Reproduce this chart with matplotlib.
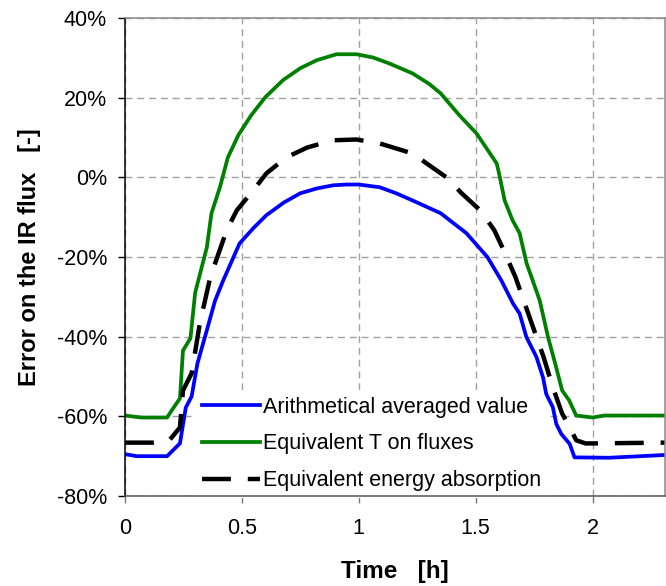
import matplotlib
matplotlib.use('Agg')
import matplotlib.pyplot as plt
from matplotlib.ticker import FuncFormatter

plt.rcParams['font.family'] = ['Liberation Sans', 'DejaVu Sans']

# Arithmetical averaged value
t_arith = [0, 0.05, 0.18, 0.235, 0.26, 0.285, 0.31, 0.35, 0.385, 0.42, 0.49, 0.55,
           0.605, 0.68, 0.75, 0.82, 0.89, 0.95, 1.0, 1.09, 1.16, 1.23, 1.35, 1.46,
           1.55, 1.61, 1.66, 1.688, 1.717, 1.76, 1.788, 1.802, 1.83, 1.845, 1.866,
           1.902, 1.923, 2.07, 2.31]
err_arith = [-69.5, -70, -70, -66.8, -57.8, -55, -46.7, -38.4, -31, -25.9, -16.6, -12.7,
             -9.5, -6.3, -4, -2.8, -2, -1.8, -1.8, -2.5, -4, -5.8, -9, -14,
             -20, -25.9, -31.7, -34.2, -40.1, -45.1, -50.2, -54.4, -57.7, -61.9, -64.4,
             -66.9, -70.3, -70.4, -69.7]

# Equivalent T on fluxes
t_eqT = [0, 0.07, 0.18, 0.2, 0.235, 0.248, 0.28, 0.30, 0.35, 0.37, 0.406, 0.44, 0.485,
         0.54, 0.60, 0.676, 0.75, 0.82, 0.905, 0.99, 1.06, 1.13, 1.23, 1.30, 1.35, 1.43, 1.504,
         1.59, 1.60, 1.624, 1.658, 1.688, 1.718, 1.744, 1.774, 1.81, 1.84, 1.87, 1.90,
         1.93, 2.0, 2.05, 2.31]
err_eqT = [-59.8, -60.3, -60.3, -58.5, -55.5, -43.5, -40.4, -29, -17.6, -9, -2.5, 5, 10.6,
           15.6, 20.1, 24.4, 27.4, 29.4, 30.9, 30.9, 30.1, 28.6, 26.1, 23.5, 21.1, 15.6, 11,
           3.5, 1, -5.8, -10.8, -14, -21.6, -25.9, -30.9, -40.2, -46.7, -53.5, -56,
           -59.8, -60.3, -59.8, -59.8]

# Equivalent energy absorption
t_eqE = [0, 0.12, 0.19, 0.235, 0.248, 0.285, 0.32, 0.365, 0.435, 0.478, 0.548, 0.605,
         0.69, 0.78, 0.89, 0.99, 1.09, 1.23, 1.29, 1.375, 1.44, 1.52, 1.58, 1.62, 1.67,
         1.70, 1.74, 1.79, 1.83, 1.87, 1.91, 1.93, 1.97, 2.0, 2.31]
err_eqE = [-66.6, -66.6, -66, -62.8, -53.5, -49.2, -36.7, -25, -13.3, -8.3, -3.3, 1,
           5, 7.5, 9.3, 9.5, 8.5, 6, 3.5, 0, -4, -8.3, -13.3, -18.3, -25,
           -30, -36.7, -45, -52.7, -59.3, -63.6, -66, -66.8, -66.8, -66.6]

labels = ['Arithmetical averaged value', 'Equivalent T on fluxes', 'Equivalent energy absorption']
xticks = [0, 0.5, 1, 1.5, 2]
xticklabels = ['0', '0.5', '1', '1.5', '2']
yticks = [-80, -60, -40, -20, 0, 20, 40]

fig = plt.figure(figsize=(6.66, 5.86), dpi=100)
ax = fig.add_axes([125 / 666, 1 - 496 / 586, 540 / 666, 478 / 586])

ax.plot(t_arith, err_arith, color='#0000ff', lw=2.7, label=labels[0])
ax.plot(t_eqT, err_eqT, color='#008000', lw=2.7, label=labels[1])
ax.plot(t_eqE, err_eqE, color='black', lw=3.2, dashes=(6.5, 3.8), label=labels[2])

ax.set_xlim(0, 2.31)
ax.set_ylim(-80, 40)
ax.set_xticks(xticks)
ax.set_xticklabels(xticklabels)
ax.set_yticks(yticks)
ax.yaxis.set_major_formatter(FuncFormatter(lambda v, p: f'{v:.0f}%'))

ax.grid(True, color='#a0a0a0', lw=1, linestyle=(0, (5, 3.5)))
ax.set_axisbelow(True)

ax.spines['left'].set_color('black')
ax.spines['bottom'].set_color('#555555')
ax.spines['top'].set_color('#888888')
ax.spines['right'].set_color('#888888')
for s in ax.spines.values():
    s.set_linewidth(1.1)

ax.tick_params(axis='y', direction='out', length=5, width=1, colors='black', labelsize=15.5, pad=8)
ax.tick_params(axis='x', direction='out', length=5, width=1, color='#777777', labelcolor='black',
               labelsize=15.5, pad=11)

ax.set_xlabel('Time   [h]', fontsize=17.5, fontweight='bold', labelpad=15)
ax.set_ylabel('Error on the IR flux   [-]', fontsize=17, fontweight='bold', labelpad=11)

leg = ax.legend(loc='center left', bbox_to_anchor=(0.2935, 0.2424), bbox_transform=fig.transFigure,
                borderaxespad=0, borderpad=0.3, frameon=True, fancybox=False, fontsize=15.5,
                handlelength=2.7, handletextpad=0.15, labelspacing=0.73)
leg.get_frame().set_facecolor('white')
leg.get_frame().set_linewidth(0)
leg.get_frame().set_alpha(1)
leg.set_zorder(1.9)  # hides the grid, but not the curves or the spines

fig.savefig('out.png', dpi=100)
